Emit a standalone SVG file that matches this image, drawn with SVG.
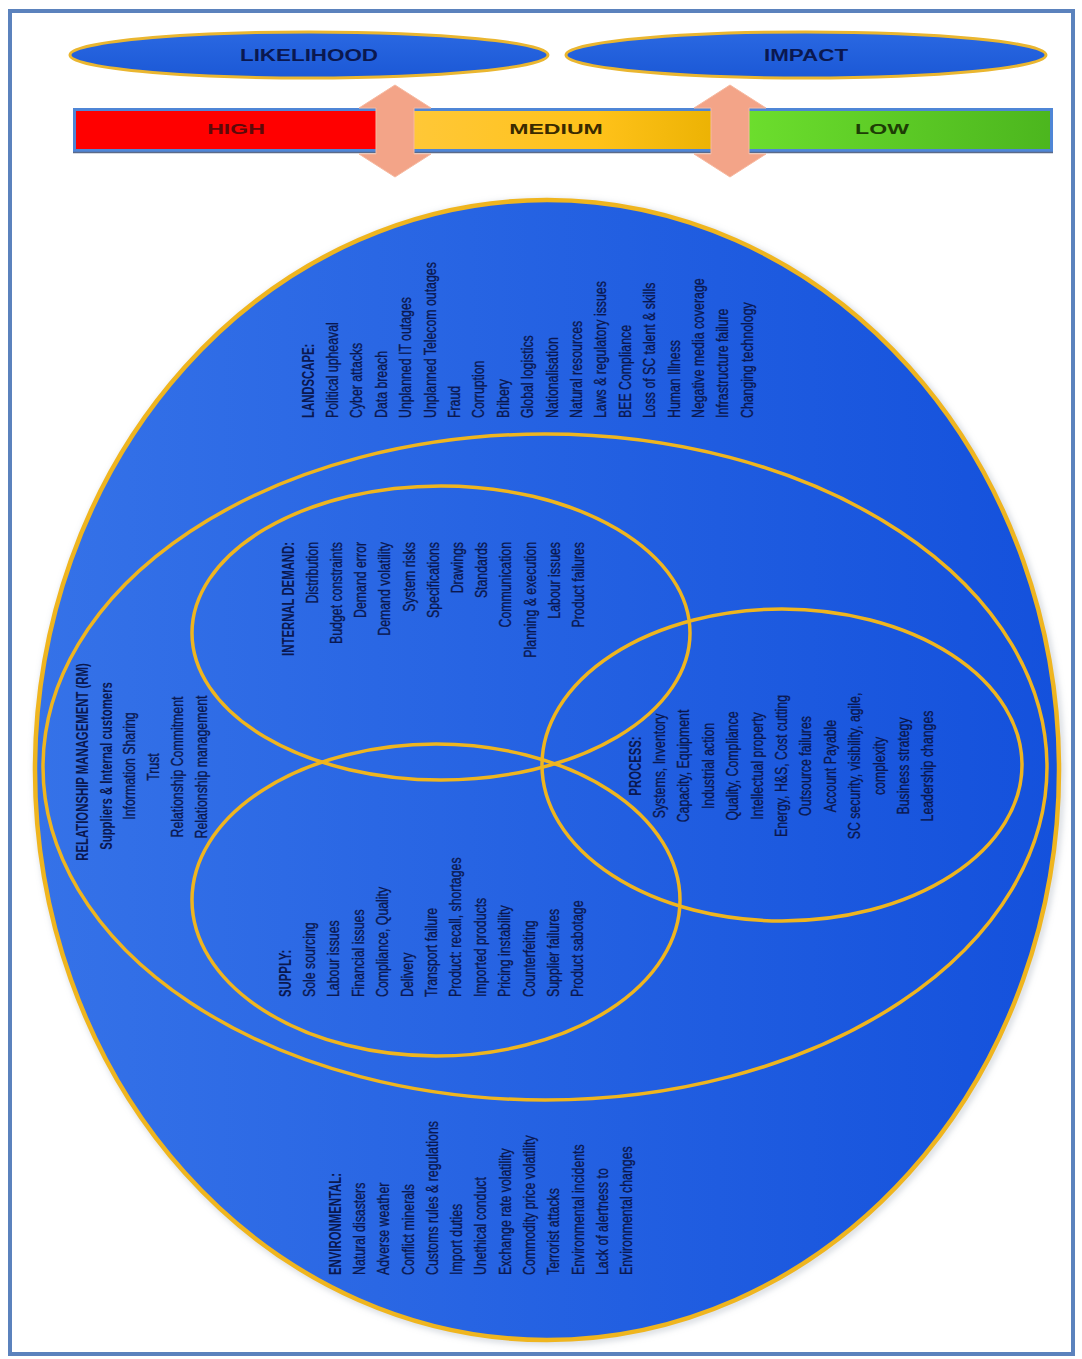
<svg xmlns="http://www.w3.org/2000/svg" width="1082" height="1359" viewBox="0 0 1082 1359">
  <style>
    .lbl { font-family: "Liberation Sans", Arial, sans-serif; font-weight: bold; fill: #0a1850; text-anchor: middle; dominant-baseline: central; }
    .i { font-family: "Liberation Sans", Arial, sans-serif; font-size: 16px; fill: #0a1850; stroke: #0a1850; stroke-width: 0.35; dominant-baseline: central; }
    .h { font-family: "Liberation Sans", Arial, sans-serif; font-size: 16px; font-weight: bold; fill: #0a1850; dominant-baseline: central; }
    .s { text-anchor: start; }
    .e { text-anchor: end; }
    .m { text-anchor: middle; }
    .ring { fill: none; stroke: #efb51f; stroke-width: 3.5; }
  </style>
  <defs>
    <linearGradient id="blueFill" x1="0" y1="0" x2="1" y2="0">
      <stop offset="0" stop-color="#3572e8"/>
      <stop offset="1" stop-color="#1451dc"/>
    </linearGradient>
    <linearGradient id="capsuleFill" x1="0" y1="0" x2="0" y2="1">
      <stop offset="0" stop-color="#2a68e2"/>
      <stop offset="1" stop-color="#1b58d6"/>
    </linearGradient>
    <linearGradient id="medFill" x1="0" y1="0" x2="1" y2="0">
      <stop offset="0" stop-color="#ffc83a"/>
      <stop offset="0.6" stop-color="#ffc21a"/>
      <stop offset="1" stop-color="#e9b000"/>
    </linearGradient>
    <linearGradient id="lowFill" x1="0" y1="0" x2="1" y2="0">
      <stop offset="0" stop-color="#6ee02e"/>
      <stop offset="1" stop-color="#4cb61e"/>
    </linearGradient>
    <filter id="halo" x="-5%" y="-5%" width="110%" height="110%">
      <feGaussianBlur stdDeviation="3"/>
    </filter>
    <path id="dblArrow" d="M0,85 L36,108 L19,108 L19,154 L36,154 L0,177 L-36,154 L-19,154 L-19,108 L-36,108 Z"/>
  </defs>

  <rect width="1082" height="1359" fill="#ffffff"/>

  <!-- page frame -->
  <rect id="frame" x="10" y="11" width="1063" height="1343" fill="none" stroke="#5b82bd" stroke-width="4"/>

  <!-- top capsules -->
  <g id="likelihood">
    <ellipse cx="309" cy="55" rx="239" ry="23" fill="url(#capsuleFill)" stroke="#eab630" stroke-width="3"/>
    <text class="lbl" font-size="16" transform="translate(309,55) scale(1.4,1)">LIKELIHOOD</text>
  </g>
  <g id="impact">
    <ellipse cx="806" cy="55" rx="240" ry="23" fill="url(#capsuleFill)" stroke="#eab630" stroke-width="3"/>
    <text class="lbl" font-size="16" transform="translate(806,55) scale(1.4,1)">IMPACT</text>
  </g>

  <!-- rating scale bar -->
  <g id="scale-bar">
    <rect x="73" y="108" width="980" height="44" fill="#4f86d6"/>
    <rect x="76" y="111" width="320" height="38" fill="#ff0000"/>
    <rect x="395" y="111" width="336" height="38" fill="url(#medFill)"/>
    <rect x="730" y="111" width="320" height="38" fill="url(#lowFill)"/>
    <line x1="73" y1="152.5" x2="1053" y2="152.5" stroke="#5a6a8a" stroke-width="1.5"/>
    <text class="lbl" font-size="14" style="fill:#5c0a0a" transform="translate(236,129) scale(1.65,1)">HIGH</text>
    <text class="lbl" font-size="14" style="fill:#3a2a00" transform="translate(556,129) scale(1.65,1)">MEDIUM</text>
    <text class="lbl" font-size="14" style="fill:#1d3d05" transform="translate(882,129) scale(1.65,1)">LOW</text>
  </g>

  <!-- double-headed arrows linking the capsules to the scale -->
  <g id="connectors" fill="#f3a488" stroke="#f6b9a0" stroke-width="1">
    <use href="#dblArrow" transform="translate(395,0)"/>
    <use href="#dblArrow" transform="translate(730,0)"/>
  </g>

  <!-- outer risk landscape -->
  <g id="landscape">
    <ellipse cx="549" cy="772" rx="512" ry="570" fill="none" stroke="#9aa4b4" stroke-opacity="0.45" stroke-width="6" filter="url(#halo)"/>
    <ellipse cx="547" cy="770" rx="512" ry="570" fill="url(#blueFill)" stroke="#efb51f" stroke-width="4.5"/>
    <text class="h s" transform="translate(308,418) rotate(-90) scale(0.71,1)">LANDSCAPE:</text>
    <text class="i s" transform="translate(332.4,418) rotate(-90) scale(0.77,1)">Political upheaval</text>
    <text class="i s" transform="translate(356.8,418) rotate(-90) scale(0.77,1)">Cyber attacks</text>
    <text class="i s" transform="translate(381.2,418) rotate(-90) scale(0.77,1)">Data breach</text>
    <text class="i s" transform="translate(405.6,418) rotate(-90) scale(0.77,1)">Unplanned IT outages</text>
    <text class="i s" transform="translate(430,418) rotate(-90) scale(0.77,1)">Unplanned Telecom outages</text>
    <text class="i s" transform="translate(454.4,418) rotate(-90) scale(0.77,1)">Fraud</text>
    <text class="i s" transform="translate(478.8,418) rotate(-90) scale(0.77,1)">Corruption</text>
    <text class="i s" transform="translate(503.2,418) rotate(-90) scale(0.77,1)">Bribery</text>
    <text class="i s" transform="translate(527.6,418) rotate(-90) scale(0.77,1)">Global logistics</text>
    <text class="i s" transform="translate(552,418) rotate(-90) scale(0.77,1)">Nationalisation</text>
    <text class="i s" transform="translate(576.4,418) rotate(-90) scale(0.77,1)">Natural resources</text>
    <text class="i s" transform="translate(600.8,418) rotate(-90) scale(0.77,1)">Laws &amp; regulatory issues</text>
    <text class="i s" transform="translate(625.2,418) rotate(-90) scale(0.77,1)">BEE Compliance</text>
    <text class="i s" transform="translate(649.6,418) rotate(-90) scale(0.77,1)">Loss of SC talent &amp; skills</text>
    <text class="i s" transform="translate(674,418) rotate(-90) scale(0.77,1)">Human Illness</text>
    <text class="i s" transform="translate(698.4,418) rotate(-90) scale(0.77,1)">Negative media coverage</text>
    <text class="i s" transform="translate(722.8,418) rotate(-90) scale(0.77,1)">Infrastructure failure</text>
    <text class="i s" transform="translate(747.2,418) rotate(-90) scale(0.77,1)">Changing technology</text>
  </g>

  <g id="environmental">
    <text class="h s" transform="translate(335,1275) rotate(-90) scale(0.71,1)">ENVIRONMENTAL:</text>
    <text class="i s" transform="translate(359.3,1275) rotate(-90) scale(0.77,1)">Natural disasters</text>
    <text class="i s" transform="translate(383.6,1275) rotate(-90) scale(0.77,1)">Adverse weather</text>
    <text class="i s" transform="translate(407.9,1275) rotate(-90) scale(0.77,1)">Conflict minerals</text>
    <text class="i s" transform="translate(432.2,1275) rotate(-90) scale(0.77,1)">Customs rules &amp; regulations</text>
    <text class="i s" transform="translate(456.5,1275) rotate(-90) scale(0.77,1)">Import duties</text>
    <text class="i s" transform="translate(480.8,1275) rotate(-90) scale(0.77,1)">Unethical conduct</text>
    <text class="i s" transform="translate(505.1,1275) rotate(-90) scale(0.77,1)">Exchange rate volatility</text>
    <text class="i s" transform="translate(529.4,1275) rotate(-90) scale(0.77,1)">Commodity price volatility</text>
    <text class="i s" transform="translate(553.7,1275) rotate(-90) scale(0.77,1)">Terrorist attacks</text>
    <text class="i s" transform="translate(578,1275) rotate(-90) scale(0.77,1)">Environmental incidents</text>
    <text class="i s" transform="translate(602.3,1275) rotate(-90) scale(0.77,1)">Lack of alertness to</text>
    <text class="i s" transform="translate(626.6,1275) rotate(-90) scale(0.77,1)">Environmental changes</text>
  </g>

  <!-- relationship management ring -->
  <g id="relationship-management">
    <ellipse class="ring" cx="545" cy="767" rx="502" ry="333"/>
    <text class="h m" transform="translate(82,762) rotate(-90) scale(0.71,1)">RELATIONSHIP MANAGEMENT (RM)</text>
    <text class="h m" transform="translate(105.8,766) rotate(-90) scale(0.71,1)">Suppliers &amp; Internal customers</text>
    <text class="i m" transform="translate(129.6,766) rotate(-90) scale(0.77,1)">Information Sharing</text>
    <text class="i m" transform="translate(153.4,767) rotate(-90) scale(0.77,1)">Trust</text>
    <text class="i m" transform="translate(177.2,767) rotate(-90) scale(0.77,1)">Relationship Commitment</text>
    <text class="i m" transform="translate(201,767) rotate(-90) scale(0.77,1)">Relationship management</text>
  </g>

  <!-- internal demand -->
  <g id="internal-demand">
    <ellipse class="ring" cx="441" cy="633" rx="249" ry="147"/>
    <text class="h e" transform="translate(288,542) rotate(-90) scale(0.71,1)">INTERNAL DEMAND:</text>
    <text class="i e" transform="translate(312.2,542) rotate(-90) scale(0.77,1)">Distribution</text>
    <text class="i e" transform="translate(336.4,542) rotate(-90) scale(0.77,1)">Budget constraints</text>
    <text class="i e" transform="translate(360.6,542) rotate(-90) scale(0.77,1)">Demand error</text>
    <text class="i e" transform="translate(384.8,542) rotate(-90) scale(0.77,1)">Demand volatility</text>
    <text class="i e" transform="translate(409,542) rotate(-90) scale(0.77,1)">System risks</text>
    <text class="i e" transform="translate(433.2,542) rotate(-90) scale(0.77,1)">Specifications</text>
    <text class="i e" transform="translate(457.4,542) rotate(-90) scale(0.77,1)">Drawings</text>
    <text class="i e" transform="translate(481.6,542) rotate(-90) scale(0.77,1)">Standards</text>
    <text class="i e" transform="translate(505.8,542) rotate(-90) scale(0.77,1)">Communication</text>
    <text class="i e" transform="translate(530,542) rotate(-90) scale(0.77,1)">Planning &amp; execution</text>
    <text class="i e" transform="translate(554.2,542) rotate(-90) scale(0.77,1)">Labour issues</text>
    <text class="i e" transform="translate(578.4,542) rotate(-90) scale(0.77,1)">Product failures</text>
  </g>

  <!-- supply -->
  <g id="supply">
    <ellipse class="ring" cx="436" cy="900" rx="244" ry="156"/>
    <text class="h s" transform="translate(285,997) rotate(-90) scale(0.71,1)">SUPPLY:</text>
    <text class="i s" transform="translate(309.4,997) rotate(-90) scale(0.77,1)">Sole sourcing</text>
    <text class="i s" transform="translate(333.8,997) rotate(-90) scale(0.77,1)">Labour issues</text>
    <text class="i s" transform="translate(358.2,997) rotate(-90) scale(0.77,1)">Financial issues</text>
    <text class="i s" transform="translate(382.6,997) rotate(-90) scale(0.77,1)">Compliance, Quality</text>
    <text class="i s" transform="translate(407,997) rotate(-90) scale(0.77,1)">Delivery</text>
    <text class="i s" transform="translate(431.4,997) rotate(-90) scale(0.77,1)">Transport failure</text>
    <text class="i s" transform="translate(455.8,997) rotate(-90) scale(0.77,1)">Product: recall, shortages</text>
    <text class="i s" transform="translate(480.2,997) rotate(-90) scale(0.77,1)">Imported products</text>
    <text class="i s" transform="translate(504.6,997) rotate(-90) scale(0.77,1)">Pricing instability</text>
    <text class="i s" transform="translate(529,997) rotate(-90) scale(0.77,1)">Counterfeiting</text>
    <text class="i s" transform="translate(553.4,997) rotate(-90) scale(0.77,1)">Supplier failures</text>
    <text class="i s" transform="translate(577.8,997) rotate(-90) scale(0.77,1)">Product sabotage</text>
  </g>

  <!-- process -->
  <g id="process">
    <ellipse class="ring" cx="782" cy="765" rx="240" ry="156"/>
    <text class="h m" transform="translate(635,766) rotate(-90) scale(0.71,1)">PROCESS:</text>
    <text class="i m" transform="translate(659.4,766) rotate(-90) scale(0.77,1)">Systems, Inventory</text>
    <text class="i m" transform="translate(683.8,766) rotate(-90) scale(0.77,1)">Capacity, Equipment</text>
    <text class="i m" transform="translate(708.2,766) rotate(-90) scale(0.77,1)">Industrial action</text>
    <text class="i m" transform="translate(732.6,766) rotate(-90) scale(0.77,1)">Quality, Compliance</text>
    <text class="i m" transform="translate(757,766) rotate(-90) scale(0.77,1)">Intellectual property</text>
    <text class="i m" transform="translate(781.4,766) rotate(-90) scale(0.77,1)">Energy, H&amp;S, Cost cutting</text>
    <text class="i m" transform="translate(805.8,766) rotate(-90) scale(0.77,1)">Outsource failures</text>
    <text class="i m" transform="translate(830.2,766) rotate(-90) scale(0.77,1)">Account Payable</text>
    <text class="i m" transform="translate(854.6,766) rotate(-90) scale(0.77,1)">SC security, visibility, agile,</text>
    <text class="i m" transform="translate(879,766) rotate(-90) scale(0.77,1)">complexity</text>
    <text class="i m" transform="translate(903.4,766) rotate(-90) scale(0.77,1)">Business strategy</text>
    <text class="i m" transform="translate(927.8,766) rotate(-90) scale(0.77,1)">Leadership changes</text>
  </g>
</svg>
